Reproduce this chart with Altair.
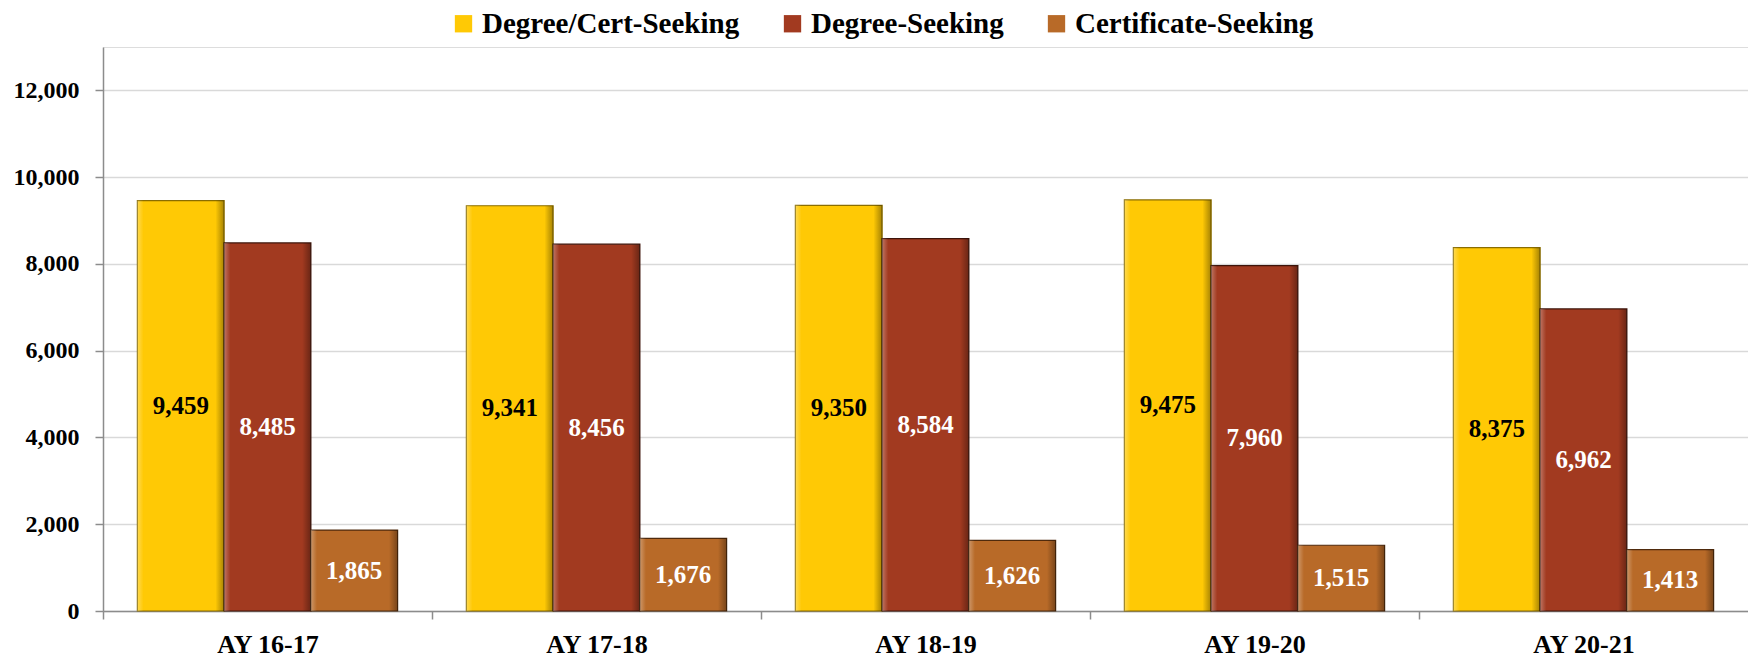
import altair as alt
import pandas as pd

years = ["AY 16-17", "AY 17-18", "AY 18-19", "AY 19-20", "AY 20-21"]
series = ["Degree/Cert-Seeking", "Degree-Seeking", "Certificate-Seeking"]
degree_cert = [9459, 9341, 9350, 9475, 8375]
degree = [8485, 8456, 8584, 7960, 6962]
certificate = [1865, 1676, 1626, 1515, 1413]
y_ticks = [0, 2000, 4000, 6000, 8000, 10000, 12000]

colors = ["#FFC905", "#A23A20", "#B86A28"]
edge_colors = ["#8A6D00", "#3E140A", "#4F2A0C"]

rows = []
for i, yr in enumerate(years):
    for s, vals in zip(series, [degree_cert, degree, certificate]):
        rows.append({"year": yr, "series": s, "value": vals[i]})
df = pd.DataFrame(rows)

FONT = "Liberation Serif"
W, H = 1645, 564

x = alt.X(
    "year:N", sort=years, title=None,
    scale=alt.Scale(paddingInner=0.209, paddingOuter=0.1045),
    axis=alt.Axis(
        labelAngle=0, labelFont=FONT, labelFontSize=26, labelFontWeight="bold",
        labelColor="#000000", domainColor="#8C8C8C", domainWidth=1.5,
        tickColor="#8C8C8C", tickWidth=1.5, tickSize=8,
        tickOffset=-164.5, labelOffset=164.5, labelPadding=33,
        labelBaseline="alphabetic", grid=False,
    ),
)
xo = alt.XOffset("series:N", sort=series, scale=alt.Scale(domain=series, paddingInner=0, paddingOuter=0))
y_scale = alt.Scale(domain=[0, 13000], nice=False)
y_axis = alt.Axis(
    values=y_ticks, format=",.0f", labelFont=FONT, labelFontSize=24,
    labelFontWeight="bold", labelColor="#000000", domainColor="#8C8C8C",
    domainWidth=1.5, tickColor="#8C8C8C", tickWidth=1.5, tickSize=8,
    labelPadding=16, gridColor="#D9D9D9", gridWidth=1.5,
)
y = alt.Y("value:Q", title=None, scale=y_scale, axis=y_axis)

bars = alt.Chart(df).mark_bar(strokeWidth=1.2).encode(
    x=x, xOffset=xo, y=y,
    color=alt.Color(
        "series:N", sort=series, scale=alt.Scale(domain=series, range=colors),
        legend=alt.Legend(
            title=None, orient="none", direction="horizontal", legendX=346, legendY=-38,
            symbolType="square", symbolSize=300, symbolStrokeWidth=0,
            labelFont=FONT, labelFontSize=29, labelFontWeight="bold", labelColor="#000000",
            labelOffset=4, columnPadding=38, padding=0, labelLimit=500,
        ),
    ),
    stroke=alt.Stroke("series:N", sort=series, scale=alt.Scale(domain=series, range=edge_colors), legend=None),
)

shade = alt.Chart(df).mark_bar(
    color=alt.Gradient(
        gradient="linear", x1=0, x2=1, y1=0, y2=0,
        stops=[
            alt.GradientStop(color="rgba(255,255,255,0.30)", offset=0),
            alt.GradientStop(color="rgba(255,255,255,0)", offset=0.07),
            alt.GradientStop(color="rgba(0,0,0,0)", offset=0.9),
            alt.GradientStop(color="rgba(0,0,0,0.35)", offset=1),
        ],
    )
).encode(x=x, xOffset=xo, y=y)

labels = alt.Chart(df).transform_calculate(mid="datum.value / 2").mark_text(
    font=FONT, fontSize=25, fontWeight="bold", baseline="middle", align="center"
).encode(
    x=x, xOffset=xo,
    y=alt.Y("mid:Q", title=None, scale=y_scale, axis=y_axis),
    text=alt.Text("value:Q", format=","),
    color=alt.condition(alt.datum.series == "Degree/Cert-Seeking", alt.value("#000000"), alt.value("#FFFFFF")),
)

chart = alt.layer(bars, shade, labels).properties(
    width=W, height=H,
    autosize=alt.AutoSizeParams(type="none"),
    padding={"left": 95, "top": 39, "right": 0, "bottom": 47},
).configure_view(stroke=None).configure(background="#FFFFFF")

chart.save("out.html", embed_options={"renderer": "svg", "actions": False})
